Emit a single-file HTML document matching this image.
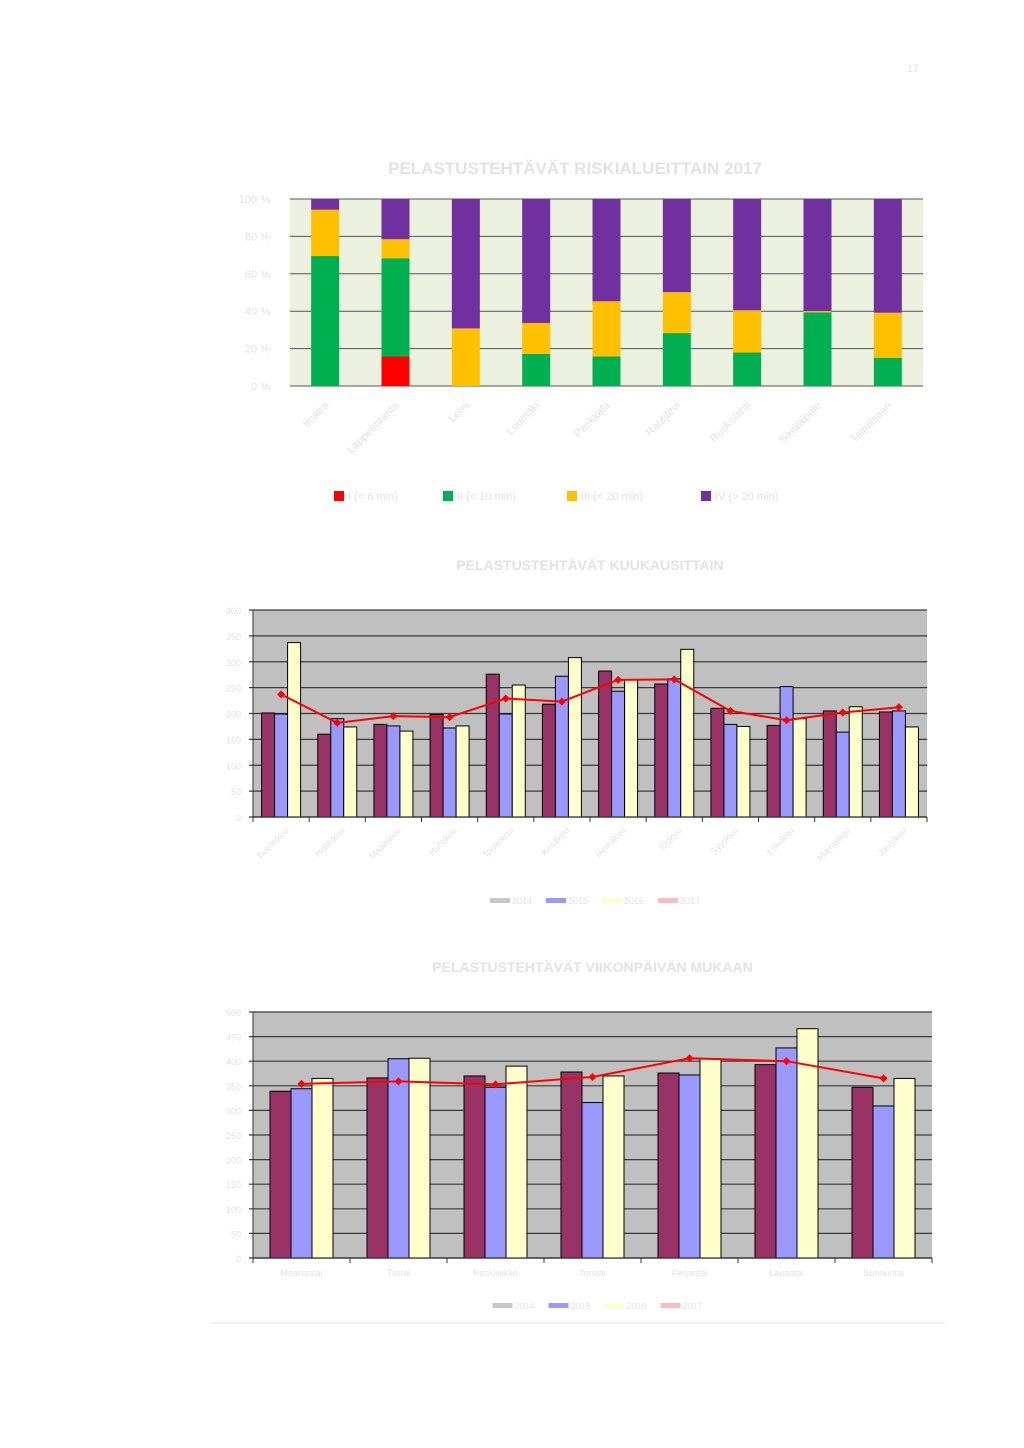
<!DOCTYPE html>
<html><head><meta charset="utf-8">
<style>
html,body{margin:0;padding:0;background:#fff;}
svg{display:block;font-family:"Liberation Sans",sans-serif;}
</style></head>
<body>
<svg id="page" width="1024" height="1448" viewBox="0 0 1024 1448" xmlns="http://www.w3.org/2000/svg">
<text x="913" y="72" font-size="11" fill="#e0e0e0" text-anchor="middle">17</text>
<g id="c1"></g>
<g id="c2"></g>
<g id="c3"></g>
<line x1="210" y1="1323" x2="945" y2="1323" stroke="#e6e6e6" stroke-width="1"/>
</svg>
<script>
// ---- Chart 1 data ----
const c1Categories = ["Imatra","Lappeenranta","Lemi","Luumäki","Parikkala","Rautjärvi","Ruokolahti","Savitaipale","Taipalsaari"];
const c1SeriesI   = [0, 15.8, 0, 0, 0, 0, 0, 0, 0];
const c1SeriesII  = [69.5, 52.5, 0, 17.2, 15.8, 28.3, 17.9, 39.4, 15.1];
const c1SeriesIII = [24.8, 10.2, 30.8, 16.5, 29.5, 21.9, 22.6, 0.7, 24.1];
const c1SeriesIV  = [5.7, 21.5, 69.2, 66.3, 54.7, 49.8, 59.5, 59.9, 60.8];
const c1Ticks = ["0 %","20 %","40 %","60 %","80 %","100 %"];
const c1Legend = ["I (< 6 min)","II (< 10 min)","III (< 20 min)","IV (> 20 min)"];

// ---- Chart 2 data ----
const c2Categories = ["Tammikuu","Helmikuu","Maaliskuu","Huhtikuu","Toukokuu","Kesäkuu","Heinäkuu","Elokuu","Syyskuu","Lokakuu","Marraskuu","Joulukuu"];
const c2Y2014 = [201,160,179,198,276,218,282,257,210,177,205,203];
const c2Y2015 = [199,190,176,172,199,272,243,267,179,252,164,205];
const c2Y2016 = [337,174,166,176,255,308,265,324,175,190,213,174];
const c2Y2017 = [237,182,195,193,229,223,265,266,205,187,202,212];
const c2Ticks = [0,50,100,150,200,250,300,350,400];

// ---- Chart 3 data ----
const c3Categories = ["Maanantai","Tiistai","Keskiviikko","Torstai","Perjantai","Lauantai","Sunnuntai"];
const c3Y2014 = [339,366,370,378,376,393,347];
const c3Y2015 = [344,405,347,316,372,427,309];
const c3Y2016 = [365,406,390,370,405,466,365];
const c3Y2017 = [354,359,353,368,406,400,365];
const c3Ticks = [0,50,100,150,200,250,300,350,400,450,500];
const years = ["2014","2015","2016","2017"];

const NS="http://www.w3.org/2000/svg";
const TXT="#e2e2e2";
function mk(parent,tag,attrs){const e=document.createElementNS(NS,tag);for(const k in attrs)e.setAttribute(k,attrs[k]);parent.appendChild(e);return e;}

// ===== Chart 1 =====
(function(){
  const g=document.getElementById('c1');
  const L=290,R=923,T=199,B=386;
  const y=v=>B-(v/100)*(B-T);
  const step=(R-L)/c1Categories.length;
  const x=i=>L+step*(i+0.5);
  const t=mk(g,'text',{x:575,y:174,'font-size':17,'font-weight':'bold',fill:TXT,'text-anchor':'middle'});
  
  
  t.textContent="PELASTUSTEHTÄVÄT RISKIALUEITTAIN 2017";
  const bg=mk(g,'rect',{x:L,y:T,width:R-L,height:B-T,fill:'#ebf1de'});
  
  
  c1Ticks.forEach((lab,i)=>{
    const v=i*20,yy=y(v);
    const ln=mk(g,'line',{x1:L,x2:R,y1:yy,y2:yy,stroke:'#555',"stroke-width":1});
    
    
    const tx=mk(g,'text',{x:270,y:yy+4,'font-size':11,fill:TXT,'text-anchor':'end'});
    
    
    tx.textContent=lab;
  });
  const series=[c1SeriesI,c1SeriesII,c1SeriesIII,c1SeriesIV];
  const cols=['#ff0000','#00b050','#ffc000','#7030a0'];
  const names=['risk-i','risk-ii','risk-iii','risk-iv'];
  c1Categories.forEach((c,i)=>{
    let acc=0;
    series.forEach((s,k)=>{
      const v=s[i]; if(v<=0)return;
      const r=mk(g,'rect',{x:x(i)-14,y:y(acc+v),width:28,height:y(acc)-y(acc+v),fill:cols[k]});
      
      
      acc+=v;
    });
    const lx=x(i)+4,ly=B+20;
    const tx=mk(g,'text',{x:lx,y:ly,'font-size':11,fill:TXT,'text-anchor':'end',transform:`rotate(-45 ${lx} ${ly})`});
    
    
    tx.textContent=c;
  });
  const lxs=[334,443,567,701];
  c1Legend.forEach((lab,k)=>{
    const r=mk(g,'rect',{x:lxs[k],y:491,width:10,height:10,fill:cols[k]});
    
    
    const tx=mk(g,'text',{x:lxs[k]+14,y:500,'font-size':11,fill:TXT});
    
    
    tx.textContent=lab;
  });
})();

function barChart(gid,prefix,title,titleY,L,R,T,B,maxV,cats,s1,s2,s3,line,ticks,barW,rotate,legendY){
  const g=document.getElementById(gid);
  const y=v=>B-(v/maxV)*(B-T);
  const step=(R-L)/cats.length;
  const t=mk(g,'text',{x:(L+R)/2,y:titleY,'font-size':14,'font-weight':'bold',fill:TXT,'text-anchor':'middle'});
  
  
  t.textContent=title;
  const bg=mk(g,'rect',{x:L,y:T,width:R-L,height:B-T,fill:'#c0c0c0'});
  
  
  ticks.forEach(v=>{
    const yy=y(v);
    const ln=mk(g,'line',{x1:L-4,x2:R,y1:yy,y2:yy,stroke:'#3a3a3a',"stroke-width":1.2});
    
    
    const tx=mk(g,'text',{x:L-12,y:yy+4,'font-size':9,fill:TXT,'text-anchor':'end'});
    
    
    tx.textContent=v;
  });
  const ax=mk(g,'line',{x1:L,x2:L,y1:T,y2:B,stroke:'#333','stroke-width':1});
  
  
  const gap=(step-3*barW)/2;
  const cols=['#993366','#9999ff','#ffffcc'];
  const pts=[];
  cats.forEach((c,i)=>{
    const gx=L+step*i;
    [s1,s2,s3].forEach((s,k)=>{
      const r=mk(g,'rect',{x:gx+gap+k*barW,y:y(s[i]),width:barW,height:B-y(s[i]),fill:cols[k],stroke:'#000','stroke-width':1});
      
      
    });
    const tk=mk(g,'line',{x1:gx,x2:gx,y1:B,y2:B+5,stroke:'#333'});
    
    
    pts.push([gx+step/2,y(line[i])]);
    let tx;
    if(rotate){
      const lx=gx+step/2+8,ly=B+14;
      tx=mk(g,'text',{x:lx,y:ly,'font-size':9,fill:TXT,'text-anchor':'end',transform:`rotate(-45 ${lx} ${ly})`});
    } else {
      tx=mk(g,'text',{x:gx+step/2,y:B+18,'font-size':9,fill:TXT,'text-anchor':'middle'});
    }
    
    
    tx.textContent=c;
  });
  const rt=mk(g,'line',{x1:R,x2:R,y1:B,y2:B+5,stroke:'#333'});
  
  
  const xa=mk(g,'line',{x1:L,x2:R,y1:B,y2:B,stroke:'#333','stroke-width':1.2});
  
  
  const pl=mk(g,'polyline',{points:pts.map(p=>p.join(',')).join(' '),fill:'none',stroke:'#ff0000','stroke-width':2});
  
  
  pts.forEach(p=>{
    const d=mk(g,'polygon',{points:`${p[0]},${p[1]-4} ${p[0]+4},${p[1]} ${p[0]},${p[1]+4} ${p[0]-4},${p[1]}`,fill:'#ff0000'});
    
    
  });
  const lc=['#c8c8c8','#9999ff','#ffffcc','#ffbbbb'];
  const lx0=(L+R)/2-100;
  years.forEach((yr,k)=>{
    const sx=lx0+k*56;
    const sw=mk(g,'rect',{x:sx,y:legendY-3,width:20,height:5,fill:lc[k]});
    
    
    const tx=mk(g,'text',{x:sx+22,y:legendY+3,'font-size':9,fill:TXT});
    
    
    tx.textContent=yr;
  });
}
barChart('c2','chart2',"PELASTUSTEHTÄVÄT KUUKAUSITTAIN",570,253,927,610,817,400,c2Categories,c2Y2014,c2Y2015,c2Y2016,c2Y2017,c2Ticks,13,true,901);
barChart('c3','chart3',"PELASTUSTEHTÄVÄT VIIKONPÄIVÄN MUKAAN",972,253,932,1012,1258,500,c3Categories,c3Y2014,c3Y2015,c3Y2016,c3Y2017,c3Ticks,21,false,1306);
</script>
</body></html>
